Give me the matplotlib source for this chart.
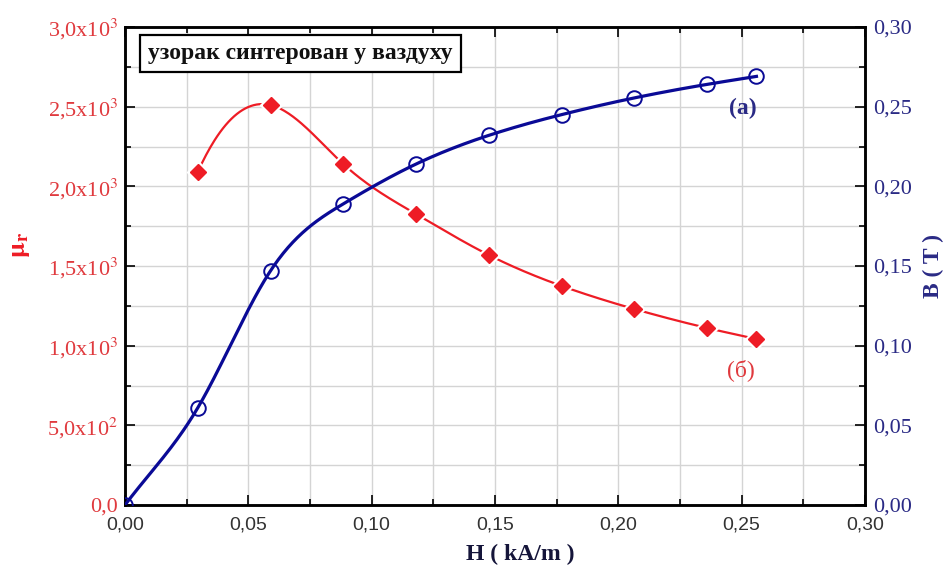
import numpy as np
import matplotlib.pyplot as plt
from matplotlib.ticker import MultipleLocator, FuncFormatter

plt.rcParams['mathtext.fontset'] = 'stix'
plt.rcParams['font.family'] = ['Liberation Serif', 'DejaVu Serif']

# data
h = [0.0, 0.0295, 0.059, 0.0885, 0.118, 0.1475, 0.177, 0.2065, 0.236, 0.256]
b = [0.0, 0.061, 0.147, 0.189, 0.214, 0.232, 0.245, 0.2555, 0.264, 0.269]
h_mu = [0.0295, 0.059, 0.0885, 0.118, 0.1475, 0.177, 0.2065, 0.236, 0.256]
mu = [2090, 2510, 2140, 1826, 1569, 1375, 1230, 1111, 1042]

red = '#ee1c25'
red_txt = '#e03a3e'
navy = '#0a0a96'
navy_txt = '#2a2a85'


# cubic spline for the smooth connecting lines
# (clamped at the start when slope0 is given, natural otherwise)
def spline(x, y, slope0=None, n=400):
    x = np.asarray(x, float)
    y = np.asarray(y, float)
    k = len(x)
    d = np.diff(x)
    A = np.zeros((k, k))
    r = np.zeros(k)
    if slope0 is None:
        A[0, 0] = 1
    else:
        A[0, 0] = 2 * d[0]
        A[0, 1] = d[0]
        r[0] = 6 * ((y[1] - y[0]) / d[0] - slope0)
    A[-1, -1] = 1
    for i in range(1, k - 1):
        A[i, i - 1] = d[i - 1]
        A[i, i] = 2 * (d[i - 1] + d[i])
        A[i, i + 1] = d[i]
        r[i] = 6 * ((y[i + 1] - y[i]) / d[i] - (y[i] - y[i - 1]) / d[i - 1])
    m = np.linalg.solve(A, r)
    xs = np.linspace(x[0], x[-1], n)
    j = np.clip(np.searchsorted(x, xs) - 1, 0, k - 2)
    t0 = x[j + 1] - xs
    t1 = xs - x[j]
    dj = d[j]
    ys = (m[j] * t0**3 + m[j + 1] * t1**3) / (6 * dj) \
        + (y[j] / dj - m[j] * dj / 6) * t0 + (y[j + 1] / dj - m[j + 1] * dj / 6) * t1
    return xs, ys


fig = plt.figure(figsize=(9.52, 5.72), dpi=100)
ax = fig.add_axes([0.1313, 0.1171, 0.7773, 0.8357])
ax2 = ax.twinx()

# mu_r curve (left axis)
xs, ys = spline(h_mu, mu, slope0=2.4 * (mu[1] - mu[0]) / (h_mu[1] - h_mu[0]))
ax.plot(xs, ys, color=red, lw=1.6, zorder=2)
ax.plot(h_mu, mu, ls='none', marker='D', ms=11.5, color='white', zorder=3)
ax.plot(h_mu, mu, ls='none', marker='D', ms=8.5, color=red, zorder=4)

# B curve (right axis)
xs, ys = spline(h, b, slope0=b[1] / h[1])
ax2.plot(xs, ys, color=navy, lw=2.3, zorder=3)
ax2.plot(h, b, ls='none', marker='o', ms=10.5, mfc='none', mec=navy, mew=1.4, zorder=4)

ax.set_xlim(0, 0.30)
ax.set_ylim(0, 3000)
ax2.set_ylim(0, 0.30)

ax.xaxis.set_major_locator(MultipleLocator(0.05))
ax.xaxis.set_minor_locator(MultipleLocator(0.025))
ax.yaxis.set_major_locator(MultipleLocator(500))
ax.yaxis.set_minor_locator(MultipleLocator(250))
ax2.yaxis.set_major_locator(MultipleLocator(0.05))
ax2.yaxis.set_minor_locator(MultipleLocator(0.025))


def fmt_mu(v, pos):
    if v <= 0:
        return '0,0'
    e = int(np.floor(np.log10(v)))
    return ('%.1f' % (v / 10**e)).replace('.', ',') + 'x10$^{%d}$' % e


def fmt_dec(v, pos):
    return ('%.2f' % abs(v)).replace('.', ',')


ax.yaxis.set_major_formatter(FuncFormatter(fmt_mu))
ax.xaxis.set_major_formatter(FuncFormatter(fmt_dec))
ax2.yaxis.set_major_formatter(FuncFormatter(fmt_dec))

ax.tick_params(axis='x', which='both', direction='in', top=True, labelsize=14,
               labelcolor='#333333', pad=8)
ax.tick_params(axis='x', which='major', length=7, width=1.2)
ax.tick_params(axis='x', which='minor', length=4, width=1.2)
for lab in ax.get_xticklabels():
    lab.set_fontfamily('Liberation Sans')
ax.tick_params(axis='y', which='both', direction='in', right=False, labelsize=16,
               labelcolor=red_txt, pad=5)
ax.tick_params(axis='y', which='major', length=7, width=1.2)
ax.tick_params(axis='y', which='minor', length=4, width=1.2)
ax2.tick_params(axis='y', which='both', direction='in', labelsize=16, labelcolor=navy_txt,
                pad=6)
ax2.tick_params(axis='y', which='major', length=7, width=1.2)
ax2.tick_params(axis='y', which='minor', length=4, width=1.2)

ax.grid(which='both', color='#d4d4d4', lw=1)
ax.set_axisbelow(True)
for s in ax2.spines.values():
    s.set_linewidth(1.8)
for s in ax.spines.values():
    s.set_linewidth(1.8)

ax.set_xlabel('H ( kA/m )', fontsize=17, fontweight='bold', color='#15153a')
ax.xaxis.set_label_coords(0.534, -0.082)
ax.set_ylabel(r'$\mathbf{\mu_r}$', fontsize=19, color=red)
ax.yaxis.set_label_coords(-0.125, 0.544)
ax2.set_ylabel('B ( T )', fontsize=17, fontweight='bold', color=navy_txt, labelpad=8)

ax.text(0.237, 0.9446, 'узорак синтерован у ваздуху', transform=ax.transAxes,
        ha='center', va='center', fontsize=17, fontweight='bold', color='#111111',
        zorder=6, bbox=dict(boxstyle='square,pad=0.35', fc='white', ec='black', lw=1.6))
ax2.text(0.2505, 0.249, '(a)', ha='center', va='center', fontsize=17,
         fontweight='bold', color=navy_txt)
ax.text(0.2495, 850, '(б)', ha='center', va='center', fontsize=17,
        color=red_txt)

fig.savefig('out.png', dpi=100)
